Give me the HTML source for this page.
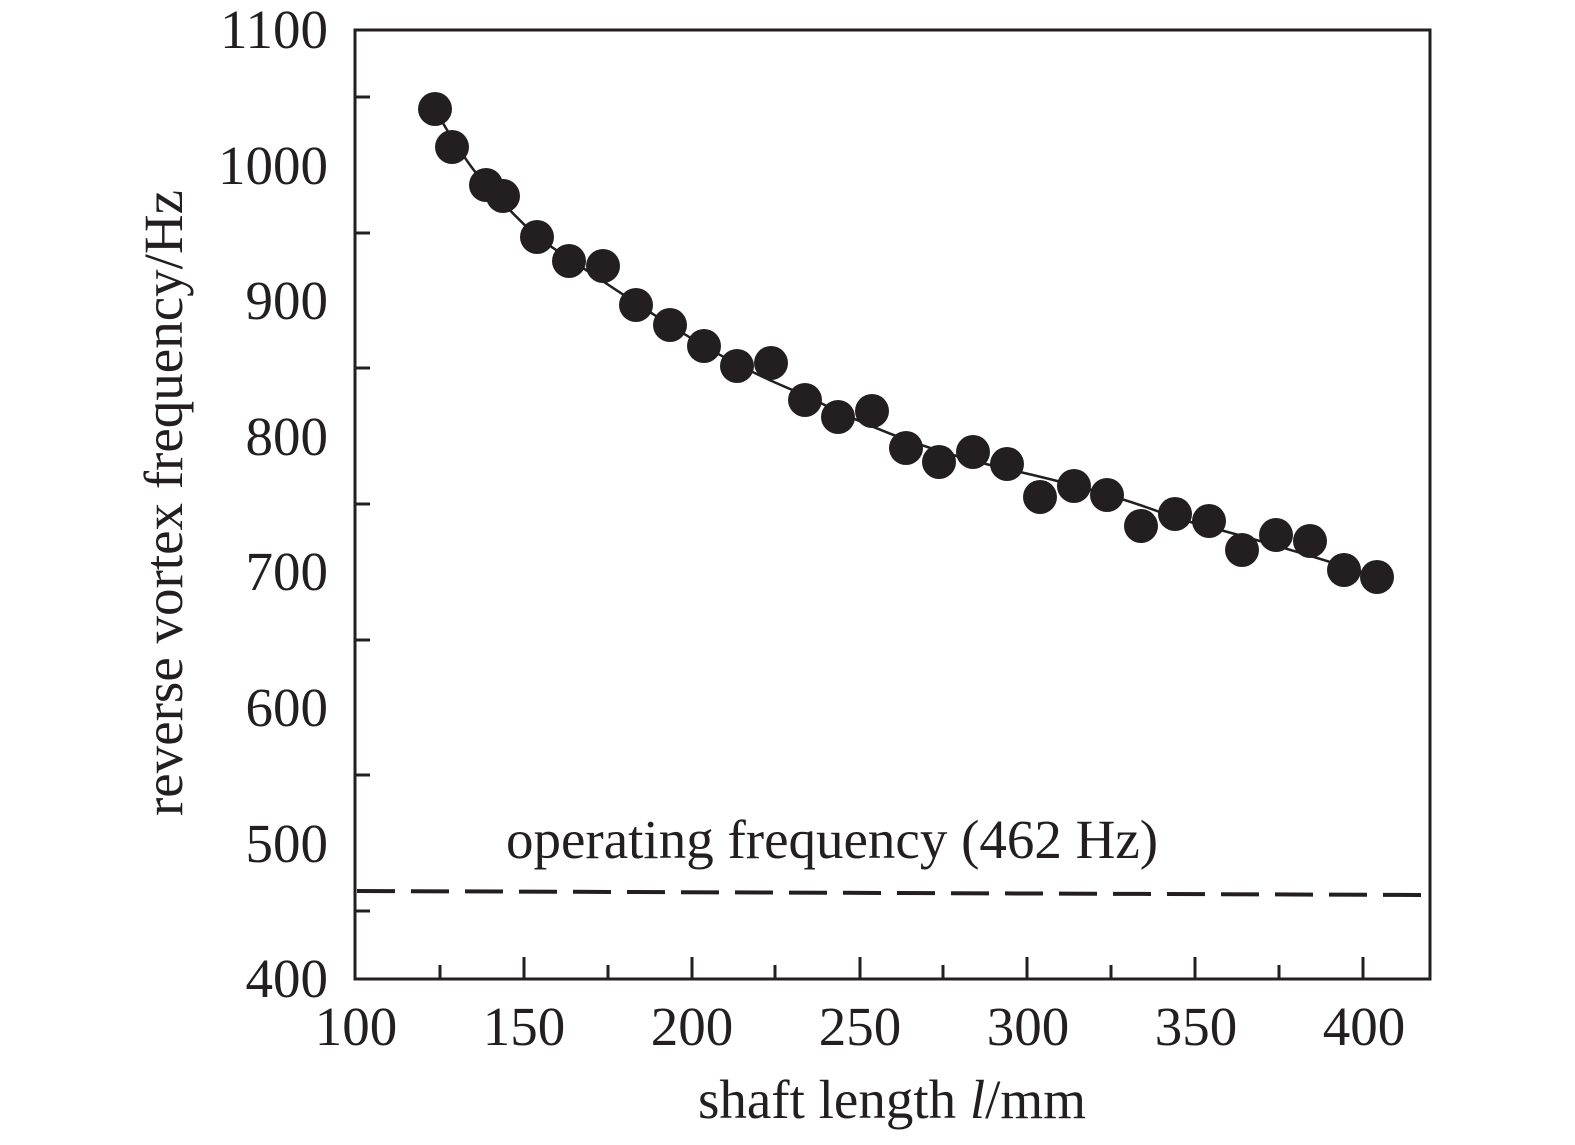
<!DOCTYPE html>
<html><head><style>body{margin:0;background:#fff}</style></head><body>
<svg width="1575" height="1140" xmlns="http://www.w3.org/2000/svg" font-family="Liberation Serif, serif" fill="#231f20">
<g stroke="#231f20" stroke-width="3" fill="none">
<rect x="355" y="30" width="1075" height="949"/>
<path d="M355,97h15M355,233h15M355,368h15M355,504h15M355,640h15M355,775h15M355,911h15"/>
<path d="M440,979v-14M608,979v-14M775,979v-14M943,979v-14M1111,979v-14M1279,979v-14"/>
<path d="M524,979v-22M692,979v-22M860,979v-22M1027,979v-22M1195,979v-22M1363,979v-22"/>
<path d="M357,891L1430,895" stroke-dasharray="38,16" stroke-width="4"/>
<path d="M435,109 Q452,140 470,165 T537,237 Q600,280 670,325 T805,395 Q900,445 1007,469 T1175,518 Q1280,545 1377,577" stroke-width="2.5"/>
</g>
<g>
<circle cx="435" cy="109" r="17"/><circle cx="452" cy="147" r="17"/><circle cx="486" cy="185" r="17"/><circle cx="503" cy="196" r="17"/><circle cx="537" cy="237" r="17"/><circle cx="569" cy="261" r="17"/><circle cx="603" cy="266" r="17"/><circle cx="636" cy="305" r="17"/><circle cx="670" cy="325" r="17"/><circle cx="704" cy="346" r="17"/><circle cx="737" cy="366" r="17"/><circle cx="771" cy="363" r="17"/><circle cx="805" cy="400" r="17"/><circle cx="838" cy="417" r="17"/><circle cx="872" cy="411" r="17"/><circle cx="906" cy="448" r="17"/><circle cx="939" cy="462" r="17"/><circle cx="973" cy="452" r="17"/><circle cx="1007" cy="464" r="17"/><circle cx="1040" cy="497" r="17"/><circle cx="1074" cy="486" r="17"/><circle cx="1107" cy="495" r="17"/><circle cx="1141" cy="526" r="17"/><circle cx="1175" cy="514" r="17"/><circle cx="1209" cy="521" r="17"/><circle cx="1242" cy="550" r="17"/><circle cx="1276" cy="535" r="17"/><circle cx="1310" cy="541" r="17"/><circle cx="1344" cy="570" r="17"/><circle cx="1377" cy="577" r="17"/>
</g>
<g font-size="55" text-anchor="end">
<text x="328" y="48">1100</text><text x="328" y="184">1000</text><text x="328" y="319">900</text><text x="328" y="455">800</text><text x="328" y="590">700</text><text x="328" y="726">600</text><text x="328" y="862">500</text><text x="328" y="997">400</text>
</g>
<g font-size="55" text-anchor="middle">
<text x="356" y="1045">100</text><text x="524" y="1045">150</text><text x="692" y="1045">200</text><text x="860" y="1045">250</text><text x="1028" y="1045">300</text><text x="1196" y="1045">350</text><text x="1364" y="1045">400</text>
<text x="892" y="1118">shaft length <tspan font-style="italic">l</tspan>/mm</text>
<text transform="translate(182,503) rotate(-90)">reverse vortex frequency/Hz</text>
</g>
<text x="506" y="858" font-size="55">operating frequency (462 Hz)</text>
</svg>
</body></html>
